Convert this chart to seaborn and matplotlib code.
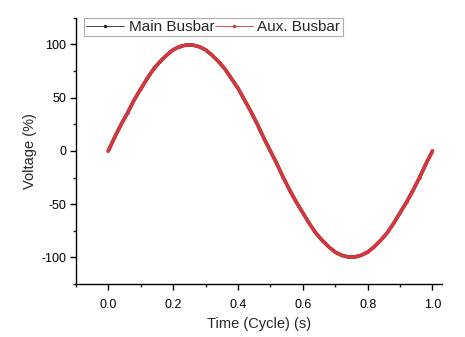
import numpy as np
import pandas as pd
import matplotlib
matplotlib.use("Agg")
import matplotlib.pyplot as plt
import seaborn as sns
from matplotlib.ticker import MultipleLocator, FormatStrFormatter

# Time over one cycle and per-unit voltage on both busbars
time_cycle = [0.00, 0.02, 0.04, 0.06, 0.08, 0.10, 0.12, 0.14, 0.16, 0.18,
              0.20, 0.22, 0.24, 0.26, 0.28, 0.30, 0.32, 0.34, 0.36, 0.38,
              0.40, 0.42, 0.44, 0.46, 0.48, 0.50, 0.52, 0.54, 0.56, 0.58,
              0.60, 0.62, 0.64, 0.66, 0.68, 0.70, 0.72, 0.74, 0.76, 0.78,
              0.80, 0.82, 0.84, 0.86, 0.88, 0.90, 0.92, 0.94, 0.96, 0.98, 1.00]
main_busbar = [0, 13, 25, 36, 48, 58, 68, 77, 84, 90,
               95, 98, 99.5, 99.5, 98, 95, 90, 84, 77, 68,
               59, 48, 37, 25, 12, 0, -12, -25, -37, -48,
               -58, -68, -77, -84, -90, -95, -98, -99.5, -99.5, -98,
               -95, -90, -84, -77, -68, -58, -48, -37, -25, -12, 0]
aux_busbar = [0, 13, 25, 36, 48, 58, 68, 77, 84, 90,
              95, 98, 99.5, 99.5, 98, 95, 90, 84, 77, 68,
              59, 48, 37, 25, 12, 0, -12, -25, -37, -48,
              -58, -68, -77, -84, -90, -95, -98, -99.5, -99.5, -98,
              -95, -90, -84, -77, -68, -58, -48, -37, -25, -12, 0]
series_names = ["Main Busbar", "Aux. Busbar"]

df = pd.concat([
    pd.DataFrame({"Time": time_cycle, "Voltage": main_busbar, "Bus": series_names[0]}),
    pd.DataFrame({"Time": time_cycle, "Voltage": aux_busbar, "Bus": series_names[1]}),
])

sns.set_style("ticks")
plt.rcParams["font.family"] = ["Liberation Sans", "DejaVu Sans"]
plt.rcParams["axes.unicode_minus"] = False

fig = plt.figure(figsize=(4.65, 3.37), dpi=100)
ax = fig.add_axes([0.163, 0.157, 0.788, 0.790])

palette = {"Main Busbar": "#222222", "Aux. Busbar": "#d8363d"}
sns.lineplot(data=df, x="Time", y="Voltage", hue="Bus", palette=palette,
             linewidth=2.5, marker="o", markersize=1.5, markeredgewidth=0,
             ax=ax, legend=True)

ax.set_xlim(-0.1, 1.03)
ax.set_ylim(-125, 125)
ax.xaxis.set_major_locator(MultipleLocator(0.2))
ax.xaxis.set_minor_locator(MultipleLocator(0.1))
ax.yaxis.set_major_locator(MultipleLocator(50))
ax.yaxis.set_minor_locator(MultipleLocator(25))
ax.tick_params(which="major", direction="out", length=4, width=1,
               labelsize=9, colors="#000000", pad=3)
ax.tick_params(which="minor", direction="out", length=2, width=1)
ax.tick_params(axis="x", pad=7)
ax.xaxis.set_major_formatter(FormatStrFormatter("%.1f"))

for side in ("top", "right"):
    ax.spines[side].set_visible(False)
for side in ("left", "bottom"):
    ax.spines[side].set_linewidth(1.0)
    ax.spines[side].set_color("black")

ax.set_xlabel("Time (Cycle) (s)", fontsize=10.5, labelpad=4)
ax.set_ylabel("Voltage (%)", fontsize=10.5, labelpad=3)

handles, labels = ax.get_legend_handles_labels()
for h in handles:
    h.set_linewidth(0.6)
    h.set_markersize(2.5)
leg = ax.legend(handles, labels, ncol=2, loc="upper left",
                bbox_to_anchor=(0.022, 1.0), frameon=True, fancybox=False,
                fontsize=11, handlelength=2.5, handletextpad=0.3,
                columnspacing=0.0, borderpad=0.15, borderaxespad=0.0)
leg.get_frame().set_edgecolor("#999999")
leg.get_frame().set_linewidth(0.8)

fig.savefig("out.png", dpi=100, facecolor="white")
